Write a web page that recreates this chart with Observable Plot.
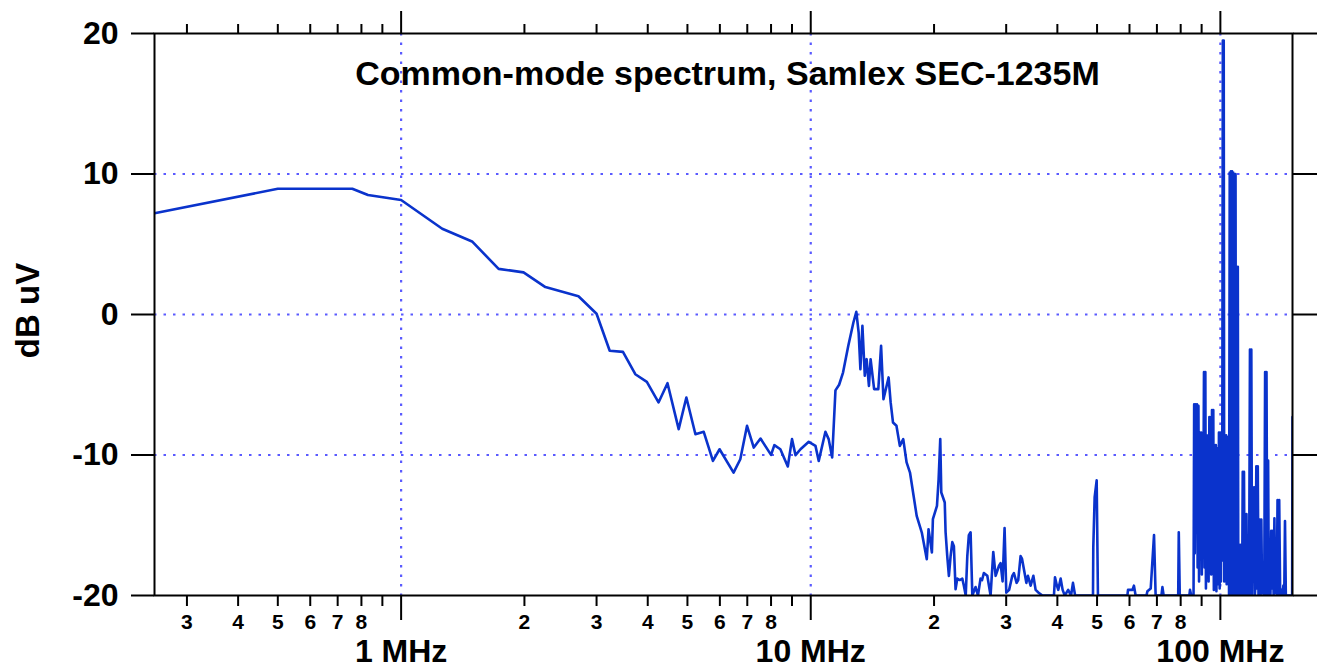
<!DOCTYPE html>
<html>
<head>
<meta charset="utf-8">
<script src="https://cdn.jsdelivr.net/npm/d3@7"></script>
<script src="https://cdn.jsdelivr.net/npm/@observablehq/plot@0.6"></script>
<style>
  body { margin: 0; background: #ffffff; }
  svg { display: block; }
</style>
</head>
<body>
<div id="chart"></div>
<script>
// ---- text ----
const chartTitle = "Common-mode spectrum, Samlex SEC-1235M";
const yAxisLabel = "dB uV";

// ---- axes ----
const xDomain = [0.25, 150];
const yDomain = [-20, 20];
const yTicks = [-20, -10, 0, 10, 20];
const yGrid = [-10, 0, 10];
const xMajorTicks = [1, 10, 100];
const xMajorLabels = ["1 MHz", "10 MHz", "100 MHz"];
const xMinorTicks = [0.3, 0.4, 0.5, 0.6, 0.7, 0.8, 0.9,
                     2, 3, 4, 5, 6, 7, 8, 9,
                     20, 30, 40, 50, 60, 70, 80, 90];
const xMinorLabels = ["3", "4", "5", "6", "7", "8", "",
                      "2", "3", "4", "5", "6", "7", "8", "",
                      "2", "3", "4", "5", "6", "7", "8", ""];

// ---- data: frequency (MHz) and level (dB uV), below -20 drawn on the floor ----
const lowBandFreq = [0.25, 0.5, 0.76, 0.83, 1.0, 1.26, 1.49, 1.73, 1.99, 2.25, 2.71, 3.0, 3.23, 3.48, 3.73, 3.98,
  4.25, 4.47, 4.76, 4.97, 5.23, 5.48, 5.77, 5.99, 6.48, 6.73, 6.99, 7.26, 7.54, 8.0, 8.15, 8.43, 8.79, 9.0, 9.18,
  9.44, 9.89, 10.27, 10.46, 10.86, 11.06, 11.28, 11.49, 11.73, 11.99, 12.35, 12.71, 12.92, 13.09, 13.22, 13.37,
  13.55, 13.69, 13.87, 14.0, 14.28, 14.62, 14.85, 15.05, 15.49, 15.67, 15.88, 16.19, 16.5, 16.82, 17.14, 17.47,
  18.14, 18.67, 19.2, 19.39, 19.76, 19.87, 20.33, 20.52, 20.71, 20.83, 21.24];
const lowBandLevel = [7.2, 8.95, 8.95, 8.5, 8.15, 6.1, 5.2, 3.25, 3.0, 1.95, 1.3, 0.05, -2.58, -2.66, -4.25, -4.79,
  -6.26, -4.89, -8.16, -5.91, -8.52, -8.35, -10.42, -9.59, -11.25, -10.3, -7.92, -9.47, -8.83, -9.99, -9.3, -9.59,
  -10.82, -8.87, -10.01, -9.59, -9.06, -9.35, -10.42, -8.35, -8.87, -10.18, -5.4, -5.0, -4.13, -2.23, -0.57, 0.19,
  -1.28, -3.89, -0.81, -4.36, -3.18, -5.08, -3.18, -5.31, -5.31, -2.23, -6.03, -4.48, -6.26, -7.69, -7.92, -9.35,
  -8.87, -10.53, -11.25, -14.33, -15.52, -17.42, -15.28, -16.94, -14.57, -13.62, -11.72, -8.87, -12.67, -13.38];

const midBandFreq = [21.34, 21.54, 21.74, 21.95, 22.16, 22.36, 22.57, 22.79, 23.1, 23.44, 23.65, 23.9, 24.11, 24.32,
  24.56, 24.8, 25.26, 25.6, 25.97, 26.2, 26.46, 26.98, 27.48, 27.9, 28.27, 28.8, 29.07, 29.4, 29.73, 30.02, 30.5,
  31.05, 31.33, 31.81, 32.1, 32.53, 32.8, 33.27, 33.6, 33.9, 34.42, 34.95, 35.4, 36.0, 36.77, 39.24, 39.47, 39.9,
  40.2, 40.75, 41.2, 41.7, 42.5, 43.2, 43.67, 44.2, 44.6, 48.87, 48.95, 49.33, 49.89, 50.25, 59.3, 59.5, 61.0,
  61.52, 62.1, 66.0, 66.36, 67.6, 68.87, 69.5, 71.8, 72.2, 72.7, 78.9, 79.15, 79.6, 84.0, 84.3, 84.9, 85.5];
const midBandLevel = [-15.5, -17.2, -18.6, -17.2, -16.2, -16.5, -19.55, -18.8, -18.9, -18.8, -19.3, -20, -17.2, -15.7,
  -15.5, -20, -19.4, -20, -18.8, -18.9, -18.4, -18.6, -20, -16.9, -18.6, -17.9, -17.7, -19, -15.2, -19.8, -19.6,
  -18.6, -18.4, -19.1, -18.9, -17.2, -17.4, -18.4, -19.1, -18.6, -19.3, -18.6, -19.6, -19.8, -20, -20, -18.7, -19.3,
  -19.6, -18.8, -19.6, -20, -19.6, -20, -19.1, -20, -20, -20, -16.6, -13.0, -11.8, -20, -20, -19.6, -19.6,
  -19.3, -20, -20, -19.7, -19.5, -15.7, -20, -20, -19.4, -20, -20, -15.5, -20, -20, -19.6, -20, -20];

const highBandFreq = [86.0, 86.3, 86.6, 87.0, 87.3, 87.7, 88.0, 88.4, 88.7, 89.1, 89.4, 89.8, 90.1, 90.5, 90.8, 91.2,
  91.5, 91.9, 92.2, 92.6, 92.9, 93.3, 93.6, 94.0, 94.3, 94.7, 95.0, 95.4, 95.7, 96.1, 96.4, 96.8, 97.1, 97.5, 97.8,
  98.2, 98.5, 98.9, 99.2, 99.6, 99.9, 100.3, 100.6, 101.0, 101.4, 101.9, 102.2, 102.6, 102.9, 103.3, 103.6, 104.0,
  104.3, 104.7, 105.0, 105.4, 105.7, 106.1, 106.4, 106.8, 107.1, 107.5, 107.8, 108.2, 108.5, 108.9, 109.2, 109.6,
  109.9, 110.3, 110.6, 111.0, 111.4, 111.8, 112.2, 112.6, 113.0, 113.4, 113.8, 114.2, 114.6, 115.0, 115.4, 115.8,
  116.3, 116.7, 117.2, 117.6, 118.1, 118.5, 119.0, 119.5, 120.0, 120.4, 120.9, 121.4, 121.9, 122.4, 122.9, 123.4,
  123.9, 124.4, 124.9, 125.4, 125.9, 126.4, 126.9, 127.5, 128.0, 128.6, 129.1, 129.6, 130.2, 130.8, 131.3, 131.9,
  132.5, 133.1, 133.7, 134.3, 134.9, 135.5, 136.1, 136.7, 137.3, 137.9, 138.6, 139.2, 139.9, 140.5, 141.2, 141.8,
  142.5, 143.2, 143.8, 144.5, 145.2, 146.0, 147.0, 148.0, 149.0, 149.7, 150.0];
const highBandLevel = [-20, -6.4, -17, -6.4, -14.5, -6.4, -18, -6.5, -19, -8.4, -12, -8.4, -18.5, -9.5, -16, -4.1,
  -18, -4.1, -19.5, -8.6, -14, -8.6, -19, -7.3, -17, -7.3, -18.5, -6.8, -15.5, -6.8, -19.6, -9.3, -18, -9.3, -19.7,
  -9.5, -16.5, -19.2, -8.4, -19.5, -8.4, -19, -8.4, -17.5, 19.5, 19.5, -19, -8.6, -15, -8.6, -19.2, -8.7,
  -18, -9, -20, 10.1, -20, 10.2, -20, 10.2, -20, 10.1, -19, 10.0, -20, 10.0, -20, 3.4,
  -20, 3.4, -20, -20, -19.5, -16.4, -20, -16.4, -20, -11.2, -17, -11.2, -20, -14.2, -18, -14.2,
  -20, -19.5, -20, -17, -2.5, -20, -2.5, -20, -12.3, -19, -12.3, -20, -19, -10.8, -19.5, -10.8,
  -20, -17, -14.6, -20, -14.6, -19.8, -18, -20, -19, -4.1, -20, -4.1, -20, -10.4, -20, -17.2,
  -20, -15.4, -19.5, -15.4, -20, -14.5, -19.8, -19, -20, -13.2, -20, -13.2, -19.5, -20, -19.6, -20,
  -19.3, -20, -14.7, -20, -20, -20, -20, -20, -20, -20, -7.3];

const freqMHz = [...lowBandFreq, ...midBandFreq, ...highBandFreq];
const levelDbuV = [...lowBandLevel, ...midBandLevel, ...highBandLevel];
const spectrum = freqMHz.map((f, i) => ({f, db: levelDbuV[i]}));

const majorTable = xMajorTicks.map((t, i) => ({t, label: xMajorLabels[i]}));
const minorTable = xMinorTicks.map((t, i) => ({t, label: xMinorLabels[i]}));

const gridColor = "#5a5aff";
const lineColor = "#0a33cc";
const font = "'Liberation Sans', Arial, Helvetica, sans-serif";

const chart = Plot.plot({
  width: 1320,
  height: 671,
  marginLeft: 154,
  marginRight: 28,
  marginTop: 33,
  marginBottom: 76,
  x: {type: "log", domain: xDomain},
  y: {domain: yDomain},
  style: {fontFamily: font, fontWeight: "bold", background: "#ffffff", color: "#000000"},
  marks: [
    Plot.ruleY(yGrid, {stroke: gridColor, strokeWidth: 2.2, strokeDasharray: "2.5,7"}),
    Plot.ruleX(xMajorTicks, {stroke: gridColor, strokeWidth: 2.2, strokeDasharray: "2.5,7"}),
    Plot.line(spectrum, {x: "f", y: "db", stroke: lineColor, strokeWidth: 2.6, clip: true}),
    Plot.frame({stroke: "#000000", strokeWidth: 2}),
    Plot.axisY(yTicks, {anchor: "left", tickSize: 23, tickPadding: 13, fontSize: 32, fontWeight: "bold",
      strokeWidth: 2, tickFormat: d => String(d), label: null}),
    Plot.axisY(yTicks, {anchor: "right", tickSize: 24, tickFormat: () => "", strokeWidth: 2, label: null}),
    Plot.axisX(xMajorTicks, {anchor: "bottom", tickSize: 25, tickFormat: () => "", strokeWidth: 2, label: null}),
    Plot.axisX(xMinorTicks, {anchor: "bottom", tickSize: 11, tickFormat: () => "", strokeWidth: 2, label: null}),
    Plot.axisX(xMajorTicks, {anchor: "top", tickSize: 23, tickFormat: () => "", strokeWidth: 2, label: null}),
    Plot.axisX(xMinorTicks, {anchor: "top", tickSize: 10, tickFormat: () => "", strokeWidth: 2, label: null}),
    Plot.text(majorTable, {x: "t", text: "label", frameAnchor: "bottom", lineAnchor: "top", dy: 44,
      fontSize: 32, fontWeight: "bold", fill: "#000000"}),
    Plot.text(minorTable, {x: "t", text: "label", frameAnchor: "bottom", lineAnchor: "top", dy: 19,
      fontSize: 21, fontWeight: "bold", fill: "#000000"}),
    Plot.text([chartTitle], {frameAnchor: "top", lineAnchor: "top", dy: 27, dx: 4, fontSize: 34,
      fontWeight: "bold", fill: "#000000"}),
    Plot.text([yAxisLabel], {frameAnchor: "left", textAnchor: "middle", rotate: -90, dx: -116, dy: -4,
      lineAnchor: "bottom", fontSize: 33, fontWeight: "bold", fill: "#000000"})
  ]
});

document.getElementById("chart").appendChild(chart);
</script>
</body>
</html>
